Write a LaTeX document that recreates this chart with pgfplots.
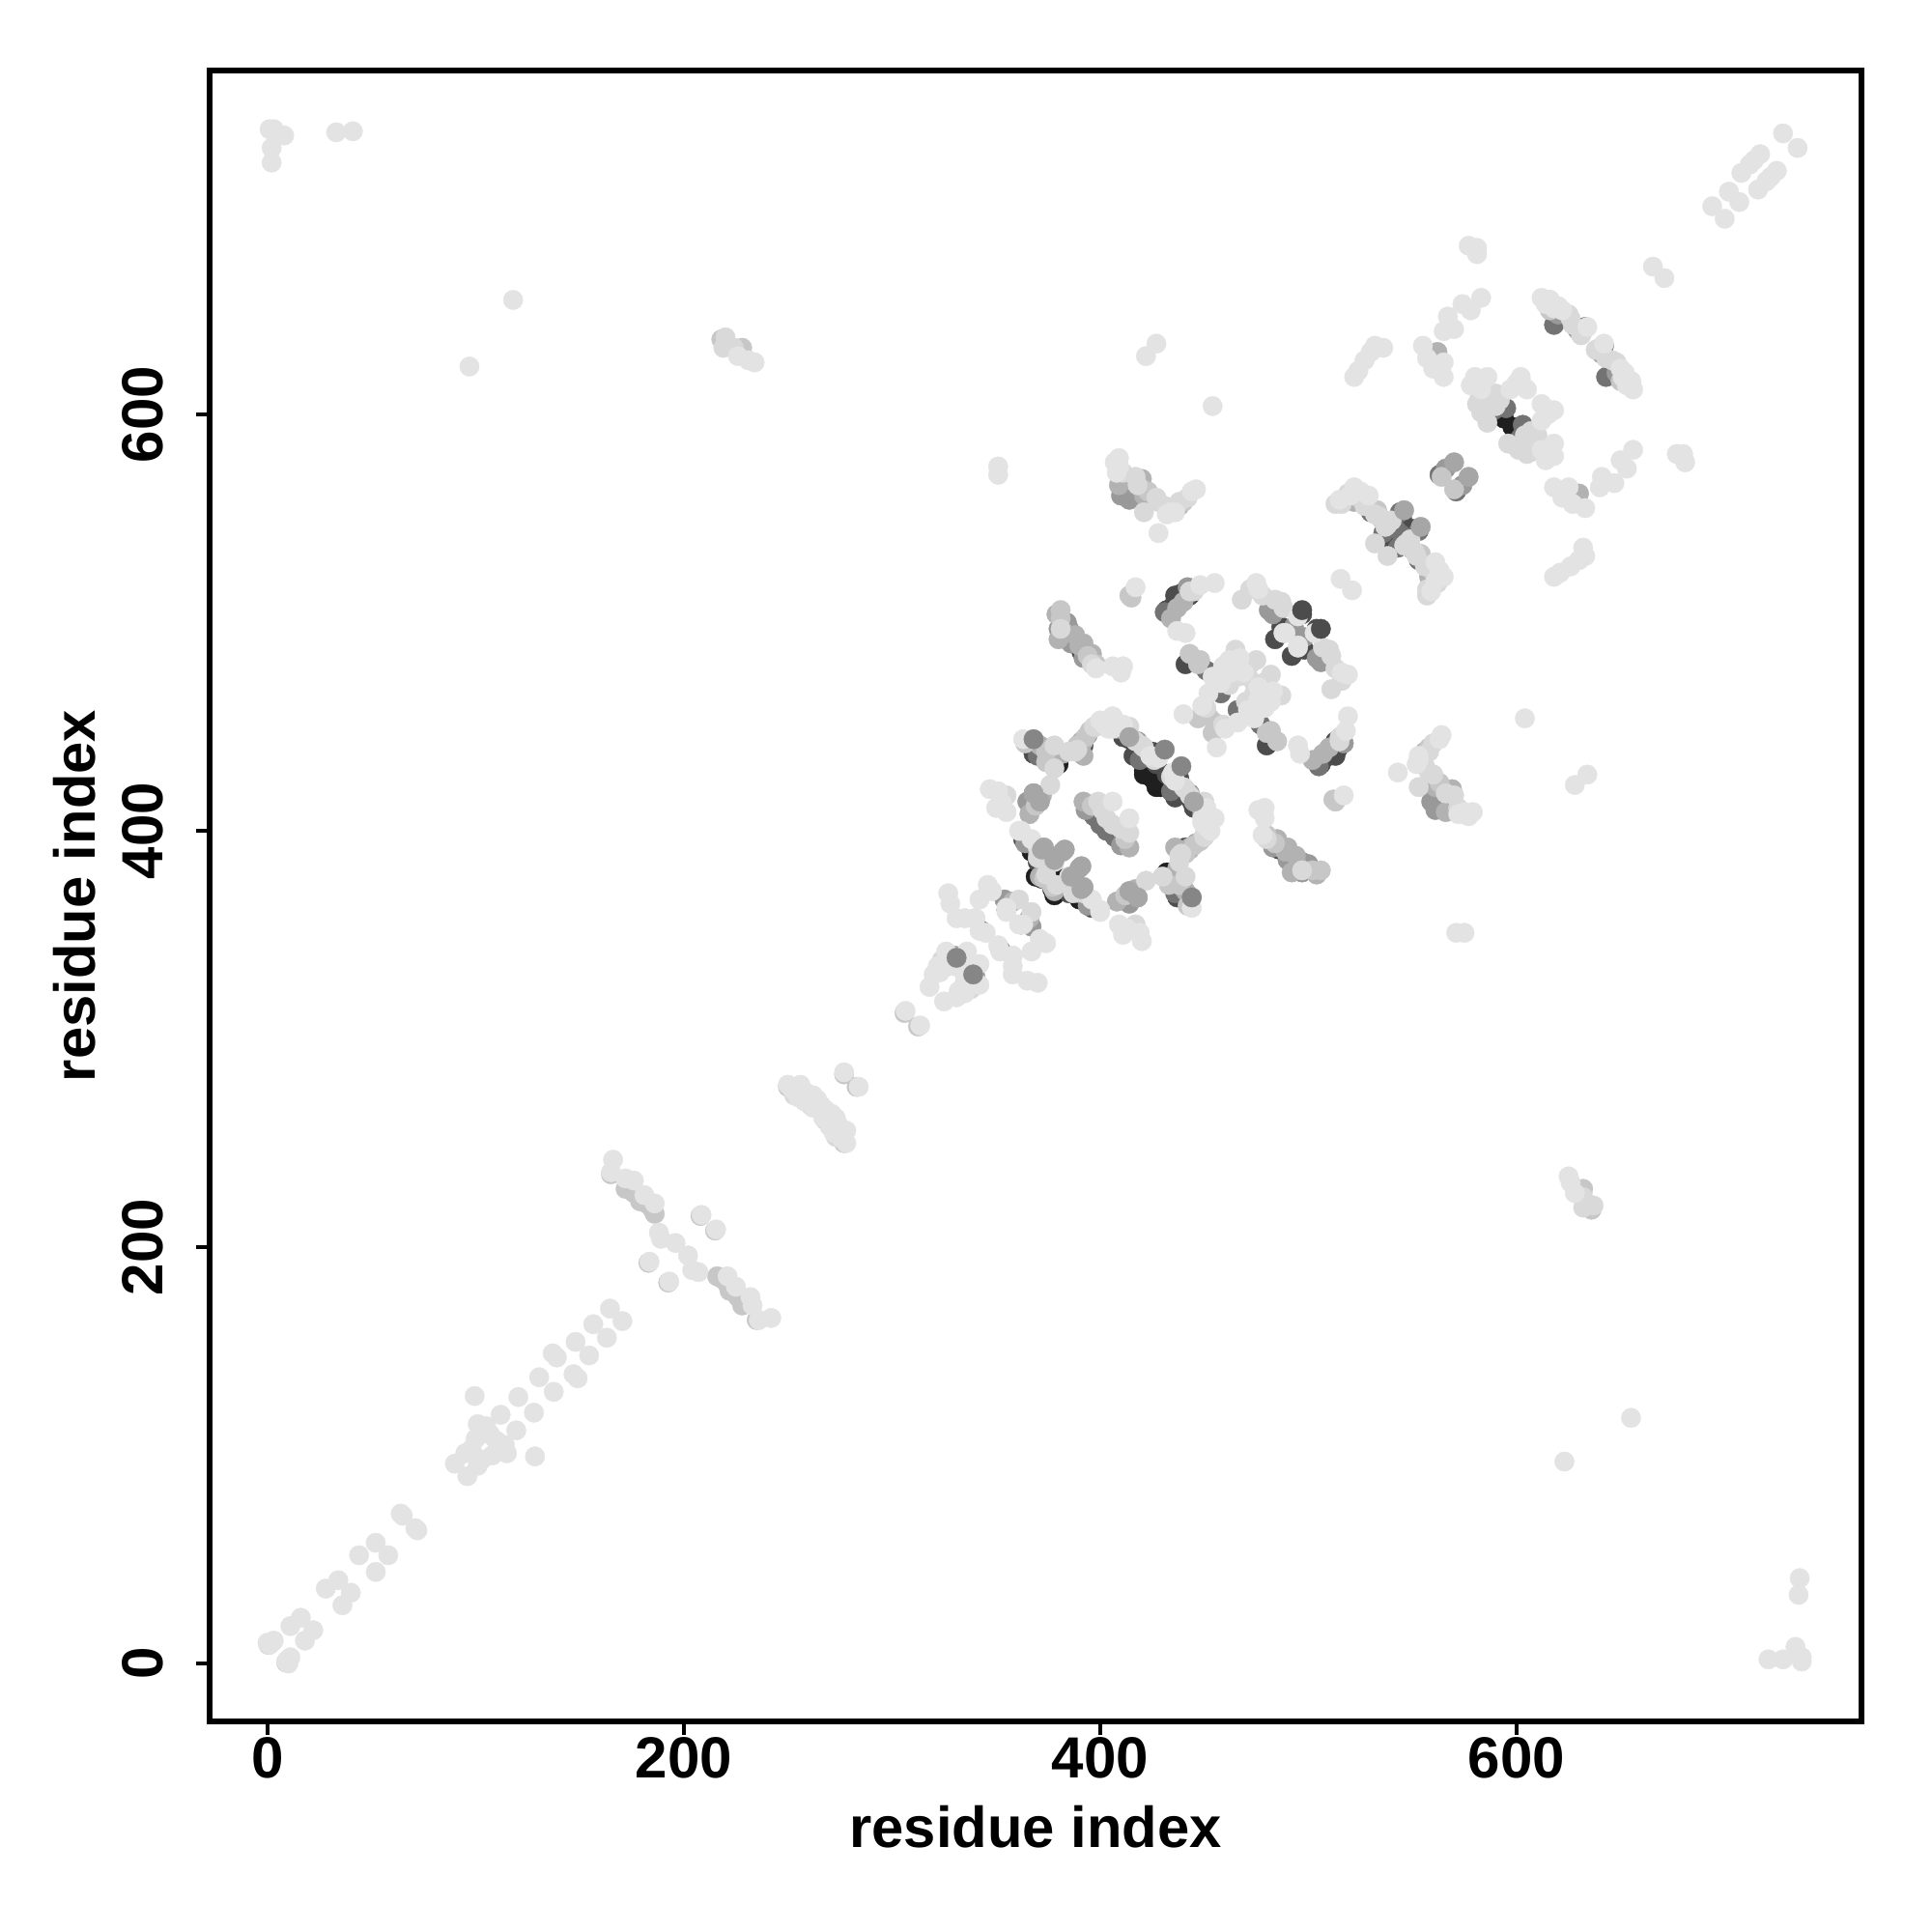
\documentclass[border=0pt]{standalone}
\usepackage{pgfplots}
\usepackage{pgfplotstable}
\usepackage{fontspec}
\setmainfont{Liberation Sans}
\pgfplotsset{compat=1.18}
\definecolor{gA}{gray}{0.12}
\definecolor{gB}{gray}{0.30}
\definecolor{gC}{gray}{0.45}
\definecolor{gD}{gray}{0.60}
\definecolor{gE}{gray}{0.70}
\definecolor{gF}{gray}{0.78}
\definecolor{gG}{gray}{0.85}
\definecolor{gH}{gray}{0.89}
\pgfplotstableread[row sep=\\,header=false]{
421 429\\421 427\\594 598\\376 387\\369 378\\372 377\\383 377\\367 390\\424 426\\379 436\\380 432\\
}\tA
\pgfplotstableread[row sep=\\,header=false]{
414 444\\412 447\\435 508\\436 513\\439 514\\443 513\\363 396\\385 370\\383 373\\416 436\\
441 480\\536 541\\484 492\\487 498\\545 550\\432 506\\497 504\\411 445\\392 441\\368 437\\382 500\\387 493\\391 486\\427 432\\438 425\\
}\tB
\pgfplotstableread[row sep=\\,header=false]{
431 505\\397 407\\403 400\\408 397\\419 434\\536 543\\553 544\\623 646\\630 640\\584 608\\451 477\\458 466\\355 362\\343 352\\
563 571\\589 602\\595 603\\633 642\\618 643\\370 436\\377 434\\530 553\\542 545\\588 609\\618 648\\
}\tC
\pgfplotstableread[row sep=\\,header=false]{
411 449\\369 392\\364 394\\365 414\\442 517\\393 410\\481 506\\493 498\\483 504\\414 559\\629 641\\620 648\\566 574\\380 497\\384 500\\386 490\\392 483\\
325 335\\330 340\\354 367\\410 561\\394 446\\408 449\\443 418\\385 497\\
}\tD
\pgfplotstableread[row sep=\\,header=false]{
371 441\\382 437\\391 443\\372 417\\368 418\\371 414\\371 378\\391 372\\366 408\\388 494\\383 495\\392 490\\396 485\\358 366\\
438 556\\420 569\\409 566\\421 561\\522 558\\562 630\\392 414\\436 392\\443 392\\380 492\\379 504\\390 489\\535 550\\412 570\\437 507\\440 510\\434 502\\
}\tE
\pgfplotstableread[row sep=\\,header=false]{
0.5 9\\277 283\\306 312.5\\208 215\\183 192.5\\250 277\\165 235\\172 228\\179 222\\185 218\\176 226\\182 221\\186 216\\
372 392\\369 412\\386 378\\373 377\\395 448\\396 412\\443 485\\448 482\\440 558\\533 554\\564 570\\218 636\\228 632\\398 480\\381 506\\381 502\\
414 513\\415 512\\480 447\\455 452\\447 454\\632 640\\616 650\\374 438\\389 441\\393 445\\364 442\\374 433\\447 413\\524 560\\527 558\\423 563\\394 484\\254 275\\258 272\\261 268\\
}\tF
\pgfplotstableread[row sep=\\,header=false]{
376 422\\388 438\\420 441\\426 434\\414 450\\409 451\\399 414\\401 410\\403 406\\392 370\\378 385\\379 374\\370 387\\487 510\\484 511\\488 507\\468 511\\472 516\\478 513\\471 474\\475 482\\
421 553\\417 570\\442 560\\428 558\\538 547\\532 538\\527 556\\532 552\\537 546\\513 557\\625 648\\626 646\\616 655\\592 607\\584 603\\590 610\\582 607\\220 637\\219 632\\224 632\\
451 459\\358 340\\361 367\\417 355\\470 480\\378 441\\385 438\\397 450\\398 450\\389 439\\378 430\\417 443\\440 421\\443 515\\445 515\\
516 557\\519 562\\534 551\\540 549\\585 611\\590 604\\583 601\\581 605\\586 596\\627 643\\631 638\\418 566\\427 560\\431 556\\438 558\\411 572\\462 470\\466 474\\472 480\\465 487\\324 338\\327 335\\253 273\\396 480\\381 497\\
}\tG
\pgfplotstableread[row sep=\\,header=false]{
1 9\\0 10\\3 11\\2 10\\11 18\\16 22\\28 36\\34 40\\44 52\\52 58\\64 72\\65 71\\90 96\\95 101\\112 119.5\\99.5 128.5\\120.5 128\\130.5 137.5\\137 149\\139 147\\148 154.5\\156.5 163\\164.5 170.5\\101 115\\105 114\\104 113\\98 103\\107 110\\100 108\\
188 207\\189 204\\196 202\\183.5 193\\208.5 215.5\\166 242\\165 236\\172 233\\176 232\\181 225\\186 221\\
250 278\\252 276\\256 278\\255 272\\259 274\\258 270\\262 273\\264 271\\262 267\\266 268\\277 284\\306.5 313.5\\
318 325\\320 331\\322 335\\326 342\\328 340\\330 335\\333 338\\323 332\\336 342\\
327 370\\328 365\\331 358\\335 358\\340 358\\345 351\\342 352\\342 367\\346 374\\348 371\\355 363\\361 355\\
400 453\\406 455\\404 449\\406 454\\411 451\\353 413\\347 420\\350 411\\355 409\\351 419\\362 400\\396 367\\400 361\\406 414\\363 444\\402 451\\424 436\\435 428\\451 410\\453 407\\449 406\\
455 519\\448 518\\437 496\\441 495\\454 474\\463 476\\467 483\\469 476\\458 471\\475 519\\495 503\\489 495\\476 516\\495 488\\398 478\\406 479\\411 479\\410 476\\417 517\\452 466\\456 472\\449 460\\459 479\\462 482\\440 456\\
446 564\\428 543\\432 552\\444 563\\436 553\\409 575\\409 579\\351 575\\351 571\\522 565\\529 561\\515 559\\520 561\\525 563\\612 656\\616 655\\620 652\\580 618\\586 618\\602 618\\603 614\\583 612\\578 614\\582 616\\597 612\\600 615\\605 612\\614 653\\618 651\\622 650\\407 577\\408 572\\434 553\\
577 681\\581 680\\581 677\\665.5 671\\567 647\\574 653\\583 656\\570 641\\578 650\\565 640\\522 618\\524 621\\527 626\\530 630\\532 633\\536 632\\555 633\\557 627\\565 625\\565 618\\560 622\\
1 737\\3 737\\8 734\\2 728\\2 721\\33 735.5\\41 736\\118 655\\97 623\\231 626\\234 625\\226 628\\422 628\\427 634\\454 604\\728 735\\708 716\\712 720\\717 725\\714 722\\694 700\\702 707\\634 642\\515.5 521\\
}\tH
\pgfplotstableread[row sep=\\,header=false]{
497 506\\
}\tTB
\pgfplotstableread[row sep=\\,header=false]{
331 339\\431 439\\368 444\\
}\tTC
\pgfplotstableread[row sep=\\,header=false]{
546 554\\570 577\\414 445\\382 390\\383 391\\391 372\\373 392\\386 378\\371 414\\368 418\\
}\tTD
\newcommand{\grp}[2]{%
\addplot[only marks,mark=*,mark size=2.88pt,mark options={draw=#1,fill=#1,line width=0.1pt}] table[x index=0,y index=1]{#2};
\addplot[only marks,mark=*,mark size=2.88pt,mark options={draw=#1,fill=#1,line width=0.1pt}] table[x index=1,y index=0]{#2};
}
\begin{document}
\begin{tikzpicture}
\useasboundingbox (-2.17,-2.18) rectangle (17.83,17.82);
\begin{axis}[
  at={(0,0)},anchor=south west,
  scale only axis,width=17.10cm,height=17.09cm,
  xmin=-27.8,xmax=765.7,ymin=-27.8,ymax=765.2,
  axis line style={line width=1.6pt},
  xtick={0,200,400,600},ytick={0,200,400,600},
  tick align=outside,xtick pos=bottom,ytick pos=left,
  major tick length=0.14cm,
  tick style={line width=1.3pt,black},
  /pgf/number format/assume math mode=true,
  tick label style={font=\fontsize{17.1}{20}\selectfont\bfseries},
  yticklabel style={rotate=90,anchor=south,yshift=0.217cm},
  xticklabel style={yshift=0.10cm},
  label style={font=\fontsize{17}{20}\selectfont\bfseries},
  xlabel={residue index},ylabel={residue index},
  xlabel style={at={(axis description cs:0.5,-0.0638)},anchor=center},
  ylabel style={at={(axis description cs:-0.082,0.5)},anchor=center,rotate=0},
]
\grp{gA}{\tA}
\grp{gB}{\tB}
\grp{gC}{\tC}
\grp{gD}{\tD}
\grp{gE}{\tE}
\grp{gF}{\tF}
\grp{gG}{\tG}
\grp{gH}{\tH}
\grp{gB}{\tTB}
\grp{gC!50!gD}{\tTC}
\grp{gD!50!gE}{\tTD}
\end{axis}
\end{tikzpicture}
\end{document}
